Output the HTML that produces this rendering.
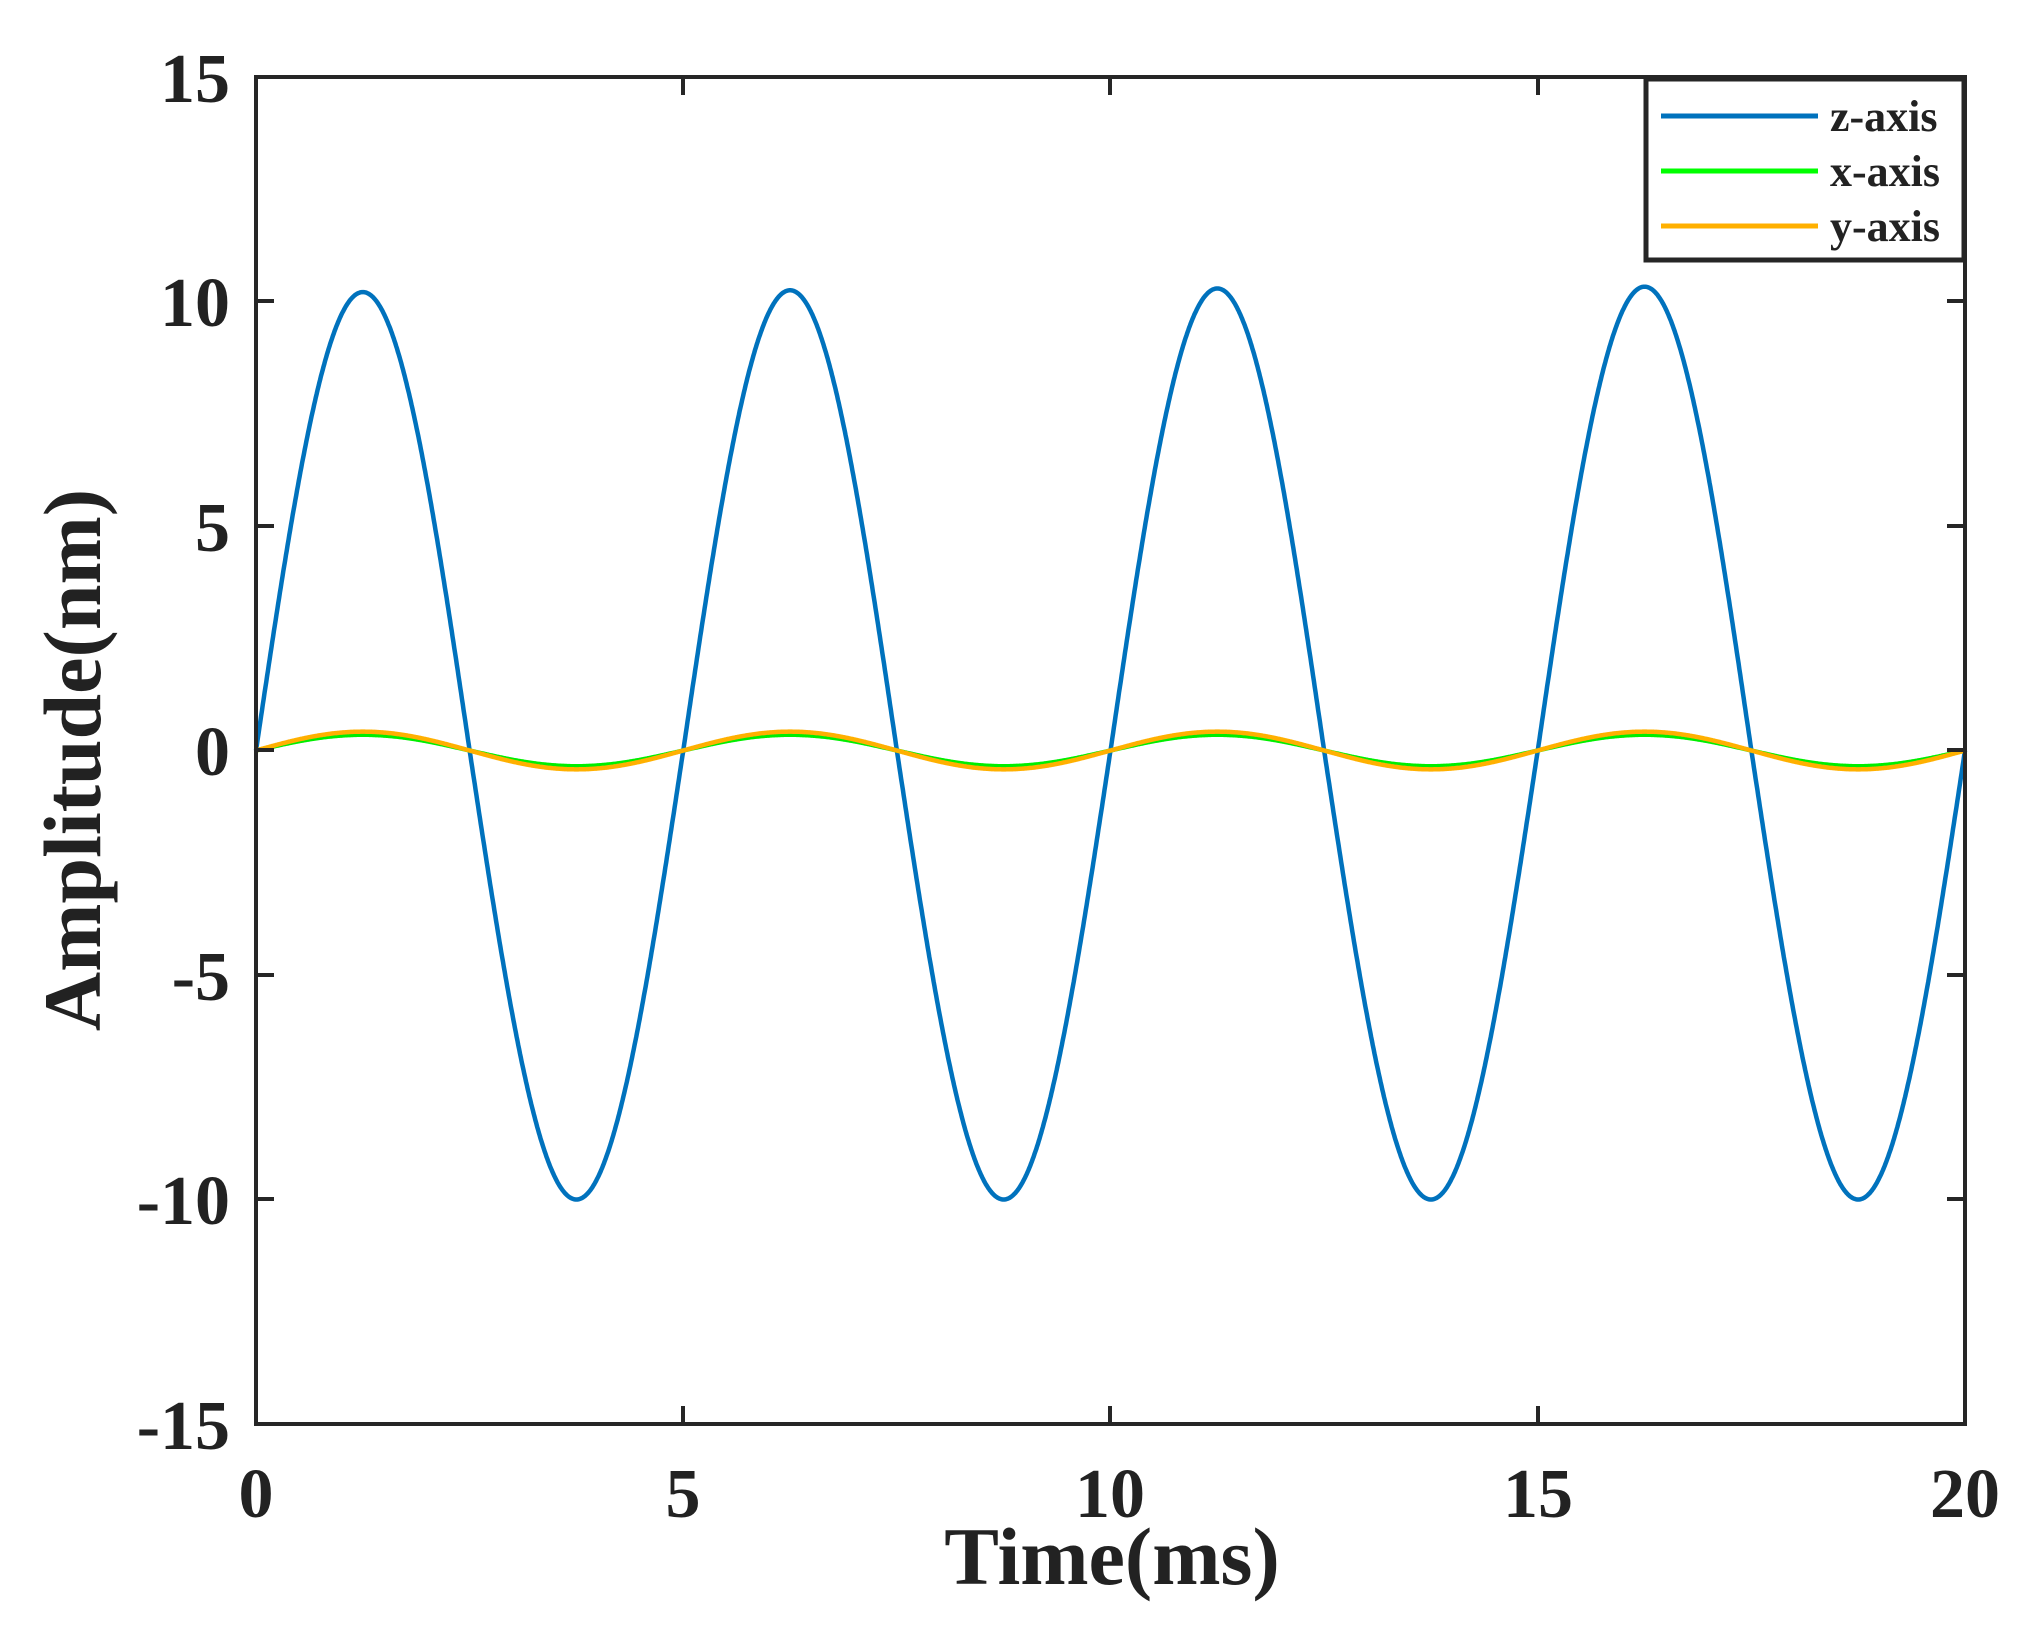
<!DOCTYPE html>
<html><head><meta charset="utf-8"><style>
body{margin:0;background:#fff}
svg{display:block}
text{font-family:"Liberation Serif",serif;font-weight:bold;fill:#222}
</style></head><body>
<svg id="s" width="2034" height="1628" viewBox="0 0 2034 1628" xmlns="http://www.w3.org/2000/svg">
<g id="curves" fill="none" stroke-linejoin="round"></g>
<g stroke="#262626" stroke-width="4" fill="none">
<rect x="256" y="77" width="1709" height="1347"/>
<path d="M256 301h18M256 526h18M256 750h18M256 975h18M256 1199h18M1965 301h-18M1965 526h-18M1965 750h-18M1965 975h-18M1965 1199h-18M683 1424v-18M1110 1424v-18M1538 1424v-18M683 77v18M1110 77v18M1538 77v18"/>
</g>
<rect x="1646" y="79" width="318" height="181" fill="#fff" stroke="#262626" stroke-width="5"/>
<g stroke-width="5"><path d="M1661 116h157" stroke="#0072BD"/><path d="M1661 171h157" stroke="#00FF00"/><path d="M1661 226h157" stroke="#FFB000"/></g>
<g font-size="44"><text x="1830" y="131">z-axis</text><text x="1830" y="186">x-axis</text><text x="1830" y="241">y-axis</text></g>
<g font-size="70" text-anchor="end">
<text x="230" y="102">15</text><text x="230" y="326">10</text><text x="230" y="551">5</text><text x="230" y="775">0</text><text x="230" y="1000">-5</text><text x="230" y="1224">-10</text><text x="230" y="1449">-15</text>
</g>
<g font-size="70" text-anchor="middle">
<text x="256" y="1517">0</text><text x="683" y="1517">5</text><text x="1110" y="1517">10</text><text x="1538" y="1517">15</text><text x="1965" y="1517">20</text>
</g>
<text x="1112" y="1584" font-size="82" text-anchor="middle">Time(ms)</text>
<text transform="translate(100 760) rotate(-90)" font-size="82" text-anchor="middle">Amplitude(nm)</text>
</svg>
<script>
var X=t=>256+t*85.45, Y=v=>750.5-v*44.9;
function path(f){var d="";for(var i=0;i<=2000;i++){var t=i*0.01;d+=(i?"L":"M")+X(t).toFixed(1)+" "+Y(f(t)).toFixed(1);}return d;}
var g=document.getElementById("curves");
function add(f,c){var p=document.createElementNS("http://www.w3.org/2000/svg","path");p.setAttribute("d",path(f));p.setAttribute("stroke",c);p.setAttribute("stroke-width","4.5");g.appendChild(p);}
add(t=>{var s=Math.sin(2*Math.PI*t/5);return s>0?s*(10.2+0.008*t):s*10.0;},"#0072BD");
add(t=>0.35*Math.sin(2*Math.PI*t/5),"#00EE00");
add(t=>0.42*Math.sin(2*Math.PI*t/5),"#FFB000");
</script>
</body></html>
